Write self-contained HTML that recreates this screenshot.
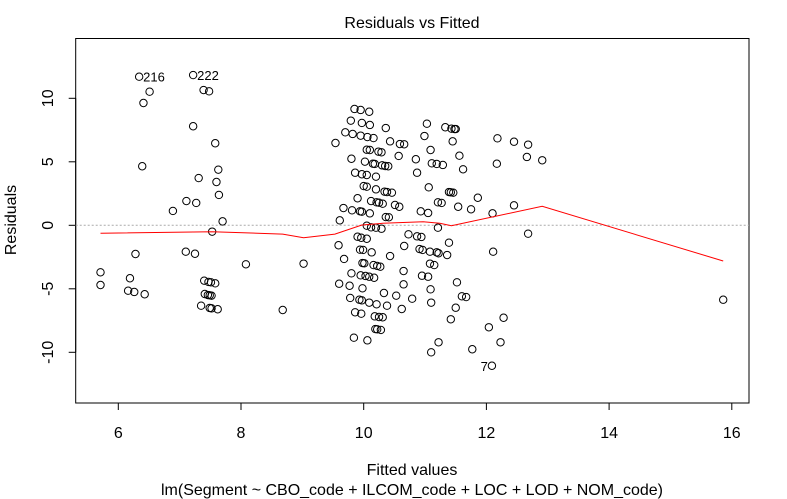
<!DOCTYPE html>
<html><head><meta charset="utf-8"><style>
html,body{margin:0;padding:0;background:#fff;}
svg{display:block;font-family:"Liberation Sans",sans-serif;}
</style></head><body>
<svg id="chart" width="787" height="499" viewBox="0 0 787 499">
<rect width="787" height="499" fill="#fff"/>
<text x="412" y="28" font-size="16" text-anchor="middle">Residuals vs Fitted</text>
<text x="412" y="475" font-size="16" text-anchor="middle">Fitted values</text>
<text x="412" y="495" font-size="16" text-anchor="middle">lm(Segment ~ CBO_code + ILCOM_code + LOC + LOD + NOM_code)</text>
<text x="16" y="220" font-size="16" text-anchor="middle" transform="rotate(-90 16 220)">Residuals</text>
<g id="axes"></g>
<g id="marks"></g>
</svg>
<script>
const xTicks=[6,8,10,12,14,16];
const yTicks=[-10,-5,0,5,10];
const fitted=[6.34,6.51,6.41,7.22,7.39,7.48,7.22,7.58,6.39,7.63,7.31,7.60,7.64,7.11,7.27,6.89,7.70,7.53,6.28,7.10,7.25,5.71,5.71,6.19,6.16,6.26,6.43,8.08,9.02,7.40,7.47,7.51,7.58,7.41,7.46,7.49,7.52,7.35,7.49,7.52,7.62,8.68,
9.85,9.95,10.09,9.79,9.97,10.10,10.36,11.03,9.70,9.82,9.95,10.06,10.16,10.99,9.54,10.43,10.59,10.66,10.05,10.10,10.24,10.29,11.09,9.80,10.02,10.15,10.18,10.30,10.35,10.40,10.57,10.85,11.11,11.19,9.86,9.97,10.05,10.20,10.87,10.00,10.05,10.20,10.34,10.38,10.46,11.06,9.90,10.12,10.21,10.25,10.31,10.51,10.58,11.21,9.67,9.81,9.94,9.97,10.10,10.36,10.41,10.93,11.05,9.61,10.05,10.12,10.20,10.29,11.21,9.90,9.96,10.05,10.73,10.87,10.94,9.59,10.66,9.94,9.99,10.13,10.91,10.96,11.08,11.19,9.68,10.43,9.98,10.01,10.16,10.22,10.27,11.08,11.15,9.80,9.95,10.03,10.09,10.17,10.65,10.95,11.05,9.60,9.77,9.98,10.65,11.09,9.78,9.93,9.97,10.09,10.21,10.33,10.38,10.53,10.79,10.62,11.10,9.86,9.96,10.18,10.25,10.31,10.19,10.22,10.28,9.84,10.06,11.10,11.22,
11.33,11.43,11.48,11.50,11.45,12.18,12.45,12.68,11.56,12.66,12.91,11.29,11.62,12.17,11.39,11.42,11.46,11.86,11.27,11.54,12.45,11.75,12.10,12.68,11.39,11.22,11.36,12.11,11.52,11.60,11.67,11.50,11.42,12.28,12.04,12.23,11.77,12.09,15.86];
const residuals=[11.70,10.52,9.63,11.83,10.65,10.55,7.80,6.46,4.65,4.38,3.72,3.41,2.39,1.91,1.76,1.13,0.31,-0.50,-2.26,-2.08,-2.24,-3.70,-4.70,-4.17,-5.15,-5.25,-5.43,-3.07,-3.02,-4.36,-4.46,-4.49,-4.57,-5.41,-5.49,-5.51,-5.54,-6.33,-6.51,-6.54,-6.61,-6.67,
9.16,9.08,8.94,8.24,8.06,7.90,7.66,8.00,7.32,7.19,7.06,6.95,6.87,7.03,6.48,6.61,6.40,6.38,5.95,5.93,5.80,5.75,5.93,5.24,5.01,4.85,4.83,4.72,4.67,4.65,5.46,5.20,4.88,4.83,4.14,4.02,3.96,3.83,4.14,3.09,3.04,2.83,2.65,2.62,2.57,2.99,2.13,1.91,1.81,1.78,1.70,1.60,1.46,1.81,1.36,1.18,1.10,1.07,0.94,0.65,0.63,1.10,0.97,0.39,-0.03,-0.16,-0.19,-0.27,-0.19,-0.90,-0.98,-1.06,-0.71,-0.87,-0.92,-1.57,-1.63,-1.92,-1.94,-2.13,-1.87,-1.94,-2.08,-2.13,-2.65,-2.42,-2.97,-2.99,-3.13,-3.20,-3.26,-3.02,-3.13,-3.78,-3.94,-3.99,-4.05,-4.13,-3.60,-3.97,-4.05,-4.60,-4.76,-4.96,-4.65,-5.04,-5.72,-5.86,-5.91,-6.09,-6.22,-5.33,-6.33,-5.54,-5.78,-6.59,-6.09,-6.85,-6.96,-7.17,-7.22,-7.24,-8.17,-8.19,-8.24,-8.85,-9.06,-10.00,-9.21,
7.72,7.61,7.58,7.58,6.61,6.85,6.58,6.35,5.48,5.38,5.12,4.75,4.41,4.85,2.62,2.60,2.57,2.17,1.76,1.46,1.57,1.26,0.94,-0.66,-1.37,-2.20,-2.34,-2.08,-4.49,-5.59,-5.65,-6.49,-7.40,-7.28,-8.03,-9.21,-9.76,-11.06,-5.86];
const smoothX=[5.71,7.53,8.68,9.02,9.53,9.97,10.31,10.97,11.24,11.43,12.91,15.86];
const smoothY=[-0.63,-0.50,-0.69,-0.98,-0.69,0.02,0.16,0.28,0.16,-0.03,1.50,-2.81];
const labelIdx=[0,3,residuals.length-2];
const labelText=["216","222","7"];

const L=75.7,R=749,T=38.5,B=403;
function sx(v){return 118.3+(v-6)*61.35;}
function sy(v){return 225.3-v*12.7;}
const NS='http://www.w3.org/2000/svg';
function mk(tag,attrs,parent){const e=document.createElementNS(NS,tag);for(const k in attrs)e.setAttribute(k,attrs[k]);parent.appendChild(e);return e;}
const axes=document.getElementById('axes'),marks=document.getElementById('marks');

const box=mk('rect',{x:L,y:T,width:R-L,height:B-T,fill:'none',stroke:'#000','stroke-width':1},axes);



const xa=mk('line',{x1:sx(6),x2:sx(16),y1:B,y2:B,stroke:'#000'},axes);


xTicks.forEach(t=>{
  const ln=mk('line',{x1:sx(t),x2:sx(t),y1:B,y2:B+7,stroke:'#000'},axes);
  
  
  const tx=mk('text',{x:sx(t),y:438,'font-size':16,'text-anchor':'middle'},axes);
  tx.textContent=t;
  
  
});
const ya=mk('line',{x1:L,x2:L,y1:sy(-10),y2:sy(10),stroke:'#000'},axes);


yTicks.forEach(t=>{
  const ln=mk('line',{x1:L-7,x2:L,y1:sy(t),y2:sy(t),stroke:'#000'},axes);
  
  
  const tx=mk('text',{x:53,y:sy(t),'font-size':16,'text-anchor':'middle',transform:'rotate(-90 53 '+sy(t)+')'},axes);
  tx.textContent=t;
  
  
});
const zl=mk('line',{x1:L,x2:R,y1:sy(0),y2:sy(0),stroke:'#aaa','stroke-dasharray':'2,2'},marks);



fitted.forEach((f,i)=>{
  const c=mk('circle',{cx:sx(f),cy:sy(residuals[i]),r:3.7,fill:'none',stroke:'#000','stroke-width':1},marks);
  
  
});
const pts=smoothX.map((x,i)=>sx(x).toFixed(1)+','+sy(smoothY[i]).toFixed(1)).join(' ');
const sm=mk('polyline',{points:pts,fill:'none',stroke:'#f00','stroke-width':1},marks);



labelIdx.forEach((idx,j)=>{
  const right=labelText[j]==="7";
  const x=right?sx(fitted[idx])-4:sx(fitted[idx])+4;
  const tx=mk('text',{x:x,y:sy(residuals[idx])+5,'font-size':13,'text-anchor':right?'end':'start'},marks);
  tx.textContent=labelText[j];
  
  
});
</script>
</body></html>
